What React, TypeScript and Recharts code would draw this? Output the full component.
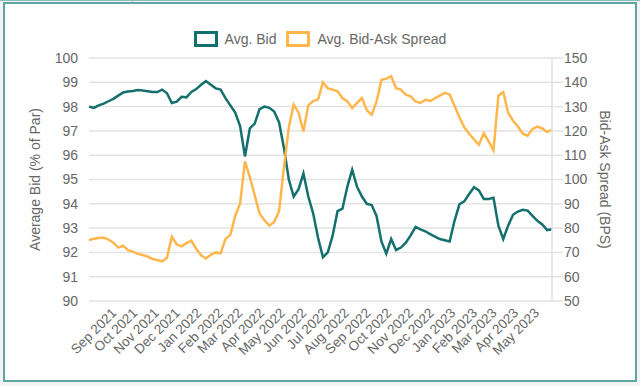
import { LineChart, Line, XAxis, YAxis, CartesianGrid, Legend, Label } from 'recharts'

// weekly observations, first one on 1 Aug 2021
const startDate = '2021-08-01'

const avgBid = [
  98.0, 97.95, 98.05, 98.12, 98.22, 98.32, 98.45, 98.58, 98.62, 98.64,
  98.68, 98.66, 98.63, 98.6, 98.6, 98.7, 98.55, 98.15, 98.2, 98.4,
  98.38, 98.6, 98.72, 98.9, 99.05, 98.9, 98.75, 98.7, 98.35, 98.05,
  97.75, 97.2, 95.95, 97.1, 97.3, 97.9, 98.0, 97.95, 97.8, 97.35,
  96.3, 95.0, 94.3, 94.6, 95.25, 94.3, 93.6, 92.6, 91.8, 92.0,
  92.7, 93.7, 93.8, 94.7, 95.4, 94.7, 94.3, 94.0, 93.95, 93.5,
  92.45, 91.95, 92.55, 92.1, 92.2, 92.4, 92.7, 93.05, 92.95, 92.87,
  92.75, 92.65, 92.55, 92.5, 92.45, 93.3, 93.98, 94.1, 94.4, 94.68,
  94.55, 94.2, 94.2, 94.25, 93.1, 92.55, 93.1, 93.55, 93.68, 93.75,
  93.72, 93.5, 93.3, 93.15, 92.92, 92.95,
]

const avgSpread = [
  75.1, 75.6, 75.9, 76.1, 75.3, 74.0, 72.0, 72.8, 70.9, 70.3,
  69.4, 68.9, 68.3, 67.3, 66.9, 66.3, 67.8, 76.5, 73.3, 72.5,
  73.8, 74.8, 71.5, 68.8, 67.5, 69.0, 70.0, 69.6, 75.5, 77.2,
  85.0, 90.0, 107.5, 101.0, 93.5, 86.0, 83.2, 81.0, 82.5, 87.0,
  105.0, 121.5, 130.8, 127.5, 119.8, 130.5, 132.3, 133.0, 140.0, 137.5,
  137.0, 136.3, 133.5, 132.1, 129.4, 131.5, 133.5, 128.5, 126.6, 132.0,
  141.0, 141.5, 142.5, 137.6, 137.0, 134.9, 134.2, 132.1, 131.5, 132.8,
  132.3, 133.5, 134.5, 135.7, 135.0, 130.3, 125.6, 121.5, 118.8, 116.5,
  114.3, 119.0, 115.7, 112.0, 134.5, 136.0, 127.5, 124.2, 121.8, 118.8,
  118.0, 120.8, 121.8, 121.0, 119.5, 120.5,
]

const tickLabels = [
  'Sep 2021', 'Oct 2021', 'Nov 2021', 'Dec 2021', 'Jan 2022', 'Feb 2022',
  'Mar 2022', 'Apr 2022', 'May 2022', 'Jun 2022', 'Jul 2022', 'Aug 2022',
  'Sep 2022', 'Oct 2022', 'Nov 2022', 'Dec 2022', 'Jan 2023', 'Feb 2023',
  'Mar 2023', 'Apr 2023', 'May 2023',
]

const bidTicks = [90, 91, 92, 93, 94, 95, 96, 97, 98, 99, 100]
const spreadTicks = [50, 60, 70, 80, 90, 100, 110, 120, 130, 140, 150]

const MONTHS = ['Jan', 'Feb', 'Mar', 'Apr', 'May', 'Jun', 'Jul', 'Aug', 'Sep', 'Oct', 'Nov', 'Dec']
const DAY = 86400000

const t0 = Date.parse(startDate + 'T00:00:00Z')
const data = avgBid.map((b, i) => ({ t: t0 + i * 7 * DAY, bid: b, spread: avgSpread[i] }))
const tickTimes = tickLabels.map((l) => {
  const [m, y] = l.split(' ')
  return Date.UTC(Number(y), MONTHS.indexOf(m), 1)
})
const labelOf = (t: number) => {
  const d = new Date(t)
  return `${MONTHS[d.getUTCMonth()]} ${d.getUTCFullYear()}`
}

const TEAL = '#14706d'
const ORANGE = '#ffb74d'
const GRID = '#e3e3e3'
const TEXT = '#666'

function LegendBoxes({ payload }: any) {
  return (
    <div style={{ display: 'flex', justifyContent: 'center', alignItems: 'center', fontSize: 14, color: TEXT }}>
      {(payload || []).map((p: any) => (
        <span key={p.value} style={{ display: 'flex', alignItems: 'center', margin: '0 5px' }}>
          <span
            style={{
              display: 'inline-block',
              width: 24,
              height: 16,
              boxSizing: 'border-box',
              border: `3px solid ${p.color}`,
              marginRight: 7,
            }}
          />
          {p.value}
        </span>
      ))}
    </div>
  )
}

export default function App() {
  return (
    <div
      style={{
        position: 'absolute',
        left: 0,
        top: 0,
        width: 640,
        height: 386,
        background: '#f3f3f3',
        fontFamily: '"Liberation Sans", Arial, sans-serif',
        overflow: 'hidden',
      }}
    >
      <div style={{ position: 'absolute', left: 0, top: 0, width: 640, height: 1, background: '#8fbcbc' }} />
      <div style={{ position: 'absolute', left: 132, top: 0, width: 1, height: 3, background: '#8fbcbc' }} />
      <div
        style={{
          position: 'absolute',
          left: 3,
          top: 2,
          width: 634,
          height: 380,
          boxSizing: 'border-box',
          border: '2px solid #5fa6a3',
          background: '#fff',
        }}
      />
      <div style={{ position: 'absolute', left: 0, top: 0 }}>
        <LineChart width={640} height={386} data={data} margin={{ top: 58, right: 0, bottom: 0, left: 0 }}>
          <CartesianGrid yAxisId="left" vertical={false} stroke={GRID} strokeWidth={1.5} />
          <XAxis
            dataKey="t"
            type="number"
            scale="time"
            domain={[data[0].t, data[data.length - 1].t]}
            ticks={tickTimes}
            tickFormatter={labelOf}
            interval={0}
            angle={-45}
            textAnchor="end"
            height={85}
            axisLine={false}
            tickLine={false}
            tickSize={0}
            tickMargin={6}
            tick={{ fontSize: 13.5, fill: TEXT }}
          />
          <YAxis
            yAxisId="left"
            width={89}
            domain={[90, 100]}
            ticks={bidTicks}
            interval={0}
            axisLine={false}
            tickLine={false}
            tickSize={0}
            tickMargin={11}
            tick={{ fontSize: 14, fill: TEXT }}
          >
            <Label value="Average Bid (% of Par)" angle={-90} position="center" dx={-9} style={{ fontSize: 14, fill: TEXT }} />
          </YAxis>
          <YAxis
            yAxisId="right"
            orientation="right"
            width={88}
            domain={[50, 150]}
            ticks={spreadTicks}
            interval={0}
            axisLine={{ stroke: GRID, strokeWidth: 1.5 }}
            tickLine={{ stroke: GRID, strokeWidth: 1.5 }}
            tickSize={11}
            tickMargin={1}
            tick={{ fontSize: 14, fill: TEXT }}
          >
            <Label value="Bid-Ask Spread (BPS)" angle={90} position="center" dx={9} style={{ fontSize: 14, fill: TEXT }} />
          </YAxis>
          <Legend
            layout="horizontal"
            verticalAlign="middle"
            align="center"
            wrapperStyle={{ top: 31, left: 0, width: 640 }}
            content={<LegendBoxes />}
          />
          <Line
            yAxisId="left"
            name="Avg. Bid"
            dataKey="bid"
            stroke={TEAL}
            strokeWidth={2.5}
            dot={false}
            isAnimationActive={false}
          />
          <Line
            yAxisId="right"
            name="Avg. Bid-Ask Spread"
            dataKey="spread"
            stroke={ORANGE}
            strokeWidth={2.5}
            dot={false}
            isAnimationActive={false}
          />
        </LineChart>
      </div>
    </div>
  )
}
